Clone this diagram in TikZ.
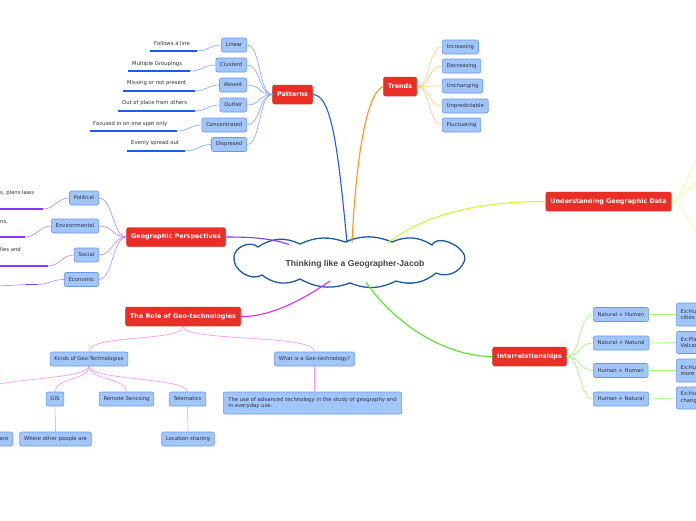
\documentclass[tikz,border=0pt]{standalone}
\usepackage{fontspec}
\setmainfont{DejaVu Sans}
\newfontfamily\cloudfont{Liberation Sans}
\usetikzlibrary{shadows}
\definecolor{myred}{RGB}{234,46,38}
\definecolor{myredd}{RGB}{215,40,32}
\definecolor{bfill}{RGB}{162,198,252}
\definecolor{bborder}{RGB}{105,152,235}
\definecolor{txt}{RGB}{45,45,55}
\definecolor{cloudc}{RGB}{26,90,168}
\definecolor{cblue}{RGB}{30,90,235}
\definecolor{lblue}{RGB}{130,165,255}
\definecolor{corange}{RGB}{255,150,25}
\definecolor{lorange}{RGB}{255,205,125}
\definecolor{cyell}{RGB}{210,250,50}
\definecolor{lyell}{RGB}{232,255,130}
\definecolor{cpurp}{RGB}{135,55,245}
\definecolor{lpurp}{RGB}{175,135,255}
\definecolor{cmag}{RGB}{235,40,235}
\definecolor{lmag}{RGB}{248,145,248}
\definecolor{cgreen}{RGB}{85,232,30}
\definecolor{lgreen}{RGB}{155,250,115}
\tikzset{
 redbox/.style={draw=myredd, fill=myred, text=white, font=\bfseries\fontsize{6.4}{7}\selectfont, rounded corners=2pt, inner xsep=4.5pt, inner ysep=0pt, minimum height=19pt, line width=0.4pt, drop shadow={shadow xshift=0.7pt, shadow yshift=-0.7pt, opacity=0.3}},
 bbox/.style={draw=bborder, fill=bfill, rounded corners=2pt, font=\fontsize{5.3}{6.8}\selectfont, text=txt, inner xsep=4.4pt, inner ysep=0pt, minimum height=14pt, line width=0.6pt},
 lbl/.style={font=\fontsize{5.3}{6.5}\selectfont, text=txt, inner sep=0pt},
 uline/.style={line width=1.5pt},
 conn/.style={line width=0.6pt},
 branch/.style={line width=1.1pt},
 cloudline/.style={draw=cloudc, line width=1.3pt, fill=white},
}
\begin{document}
\begin{tikzpicture}[x=1pt,y=-1pt]
\useasboundingbox (0,0) rectangle (696,520);
\fill[white] (0,0) rectangle (696,520);

% root cloud
\path[cloudline] (234,257) to[bend left=65] (258,247) to[bend left=30] (300,244)
  to[bend left=22] (345,242) to[bend left=22] (392,242) to[bend left=28] (432,245)
  to[bend left=90] (464,262) to[bend left=45] (436,273) to[bend left=28] (396,281)
  to[bend left=24] (350,283) to[bend left=24] (300,279) to[bend left=32] (262,275)
  to[bend left=65] (234,257) -- cycle;
\node[inner sep=0pt, font=\cloudfont\bfseries\fontsize{8.6}{10}\selectfont, text={rgb,255:red,68;green,68;blue,68}] (root) at (355,264) {Thinking like a Geographer-Jacob};
\coordinate (cpat) at (347,242.5);
\coordinate (ctre) at (352,242.5);
\coordinate (cund) at (388,242.5);
\coordinate (cgeo) at (289,244.5);
\coordinate (crol) at (330,281);
\coordinate (cint) at (366,282.5);

% main topics
\node[redbox] (patterns) at (292.5,94.5) {Patterns};
\node[redbox] (trends) at (400,86.5) {Trends};
\node[redbox] (geop) at (176,237) {Geographic Perspectives};
\node[redbox] (ugd) at (608.5,201.5) {Understanding Geographic Data};
\node[redbox] (inter) at (529.5,356.5) {Interrelationships};
\node[redbox] (role) at (183,316.5) {The Role of Geo-technologies};

% Patterns children
\node[bbox, anchor=east] (linear) at (247,45) {Linear};
\node[bbox, anchor=east] (clusterd) at (247,65) {Clusterd};
\node[bbox, anchor=east] (absent) at (247,85) {Absent};
\node[bbox, anchor=east] (outlier) at (247,105) {Outlier};
\node[bbox, anchor=east] (concentrated) at (247,125) {Concentrated};
\node[bbox, anchor=east] (dispresed) at (247,144.5) {Dispresed};

\node[lbl, anchor=west] (l1) at (154,44) {Follows a line};
\node[lbl, anchor=west] (l2) at (132,64) {Multiple Groupings};
\node[lbl, anchor=west] (l3) at (127,83.5) {Missing or not present};
\node[lbl, anchor=west] (l4) at (122,103.5) {Out of place from others};
\node[lbl, anchor=west] (l5) at (93,124) {Focused in on one spot only};
\node[lbl, anchor=west] (l6) at (131,143.5) {Evenly spread out};

\coordinate (u1a) at (150,51); \coordinate (u1b) at (197,51);
\coordinate (u2a) at (128,71); \coordinate (u2b) at (190,71);
\coordinate (u3a) at (123,91); \coordinate (u3b) at (195,91);
\coordinate (u4a) at (118,111); \coordinate (u4b) at (195,111);
\coordinate (u5a) at (90,131); \coordinate (u5b) at (177,131);
\coordinate (u6a) at (127,151); \coordinate (u6b) at (185,151);
\foreach \i/\n in {1/linear,2/clusterd,3/absent,4/outlier,5/concentrated,6/dispresed}{
  \draw[uline, cblue] (u\i a) -- (u\i b);
  \draw[conn, lblue] (u\i b) .. controls +(12,0) and +(-12,0) .. (\n.west);
  \draw[conn, lblue] (patterns.west) .. controls +(-14,0) and +(14,0) .. (\n.east);
}

% Trends children
\node[bbox, anchor=west] (inc) at (442,47) {Increasing};
\node[bbox, anchor=west] (dec) at (442,66) {Decreasing};
\node[bbox, anchor=west] (unch) at (442,86) {Unchanging};
\node[bbox, anchor=west] (unpr) at (442,106) {Unpredictable};
\node[bbox, anchor=west] (fluc) at (442,125) {Fluctuating};
\foreach \n in {inc,dec,unch,unpr,fluc}{
  \draw[conn, lorange] (trends.east) .. controls +(14,0) and +(-14,0) .. (\n.west);
}

% Geographic perspectives children
\node[bbox, anchor=east] (pol) at (99,198) {Political};
\node[bbox, anchor=east] (env) at (99,226) {Environmental};
\node[bbox, anchor=east] (soc) at (99,255) {Social};
\node[bbox, anchor=east] (eco) at (99,279.5) {Economic};
\node[lbl, anchor=west] (gl1) at (0,193) {s, plans laws};
\node[lbl, anchor=west] (gl2) at (0,222) {ns,};
\node[lbl, anchor=west] (gl3) at (0,250) {lies and};
\coordinate (g1a) at (-2,209); \coordinate (g1b) at (43,209);
\coordinate (g2a) at (-2,237); \coordinate (g2b) at (25,237);
\coordinate (g3a) at (-2,266); \coordinate (g3b) at (48,266);
\coordinate (g4a) at (26,284.5); \coordinate (g4b) at (37,284.5);
\coordinate (g4c) at (-2,286);
\draw[uline, cpurp] (g1a) -- (g1b);
\draw[uline, cpurp] (g2a) -- (g2b);
\draw[uline, cpurp] (g3a) -- (g3b);
\draw[uline, cpurp] (g4a) -- (g4b);
\draw[conn, lpurp] (g4c) -- (g4a);
\draw[conn, lpurp] (pol.west) .. controls +(-12,0) and +(12,0) .. (g1b);
\draw[conn, lpurp] (env.west) .. controls +(-12,0) and +(12,0) .. (g2b);
\draw[conn, lpurp] (soc.west) .. controls +(-12,0) and +(12,0) .. (g3b);
\draw[conn, lpurp] (eco.west) .. controls +(-12,0) and +(12,0) .. (g4b);
\foreach \n in {pol,env,soc,eco}{
  \draw[conn, lpurp] (geop.west) .. controls +(-14,0) and +(14,0) .. (\n.east);
}

% Understanding children (off page)
\coordinate (ud1) at (706,150);
\coordinate (ud2) at (706,178);
\coordinate (ud3) at (706,238);
\foreach \n in {ud1,ud2,ud3}{
  \draw[conn, lyell] (ugd.east) .. controls +(12,0) and +(-12,0) .. (\n);
}

% Interrelationships children
\node[bbox, anchor=west] (nh) at (593,314.5) {Natural + Human};
\node[bbox, anchor=west] (nn) at (593,343) {Natural + Natural};
\node[bbox, anchor=west] (hh) at (593,370.5) {Human + Human};
\node[bbox, anchor=west] (hn) at (593,399) {Human + Natural};
\node[bbox, anchor=west, align=left, text width=50pt, minimum height=23pt] (nh2) at (676,314.5) {Ex:Hu\\cities};
\node[bbox, anchor=west, align=left, text width=50pt, minimum height=22pt] (nn2) at (676,342.5) {Ex:Pla\\Valcan};
\node[bbox, anchor=west, align=left, text width=50pt, minimum height=23pt] (hh2) at (676,370.5) {Ex:Hu\\more};
\node[bbox, anchor=west, align=left, text width=50pt, minimum height=22pt] (hn2) at (676,398) {Ex:Hu\\chang};
\foreach \n in {nh,nn,hh,hn}{
  \draw[conn, lgreen] (inter.east) .. controls +(14,0) and +(-14,0) .. (\n.west);
  \draw[conn, lgreen] (\n.east) -- (\n2.west);
}

% Role children
\node[bbox] (kinds) at (89,359) {Kinds of Geo-Technologies};
\node[bbox] (whatis) at (314.5,359) {What is a Geo-technology?};
\node[bbox] (gis) at (55,399) {GIS};
\node[bbox] (rs) at (126.5,399) {Remote Sencsing};
\node[bbox] (tel) at (187.5,399) {Telematics};
\node[bbox] (wop) at (55.5,439) {Where other people are};
\node[bbox] (ls) at (188,439) {Location sharing};
\node[bbox, anchor=east, text width=30pt, align=right] (are) at (13,439) {are};
\node[bbox, anchor=west, align=left, minimum height=22pt, inner xsep=5pt] (use) at (223,403) {The use of advanced technology in the study of geography and\\in everyday use.};
\coordinate (kgps) at (-18,392);
\draw[conn, lmag] (role.south) .. controls +(0,16) and +(0,-18) .. (kinds.north);
\draw[conn, lmag] (role.south) .. controls +(0,16) and +(0,-18) .. (whatis.north);
\foreach \n in {gis,rs,tel}{
  \draw[conn, lmag] (kinds.south) .. controls +(0,14) and +(0,-14) .. (\n.north);
}
\draw[conn, lmag] (kinds.south) .. controls +(0,14) and +(0,-14) .. (kgps);
\draw[conn, lmag] (gis.south) -- (wop.north);
\draw[conn, lmag] (tel.south) -- (ls.north);
\draw[conn, lmag] (whatis.south) -- (use.north -| whatis.south);

% main branches
\draw[branch, cblue] (cpat) .. controls (338,150) and (332,94.5) .. (patterns.east);
\draw[branch, corange] (ctre) .. controls (356,160) and (366,93) .. (trends.west);
\draw[branch, cyell] (cund) .. controls (425,215) and (475,201.5) .. (ugd.west);
\draw[branch, cpurp] (geop.east) .. controls (250,237) and (270,238) .. (cgeo);
\draw[branch, cmag] (role.east) .. controls (272,317) and (305,298) .. (crol);
\draw[branch, cgreen] (cint) .. controls (400,330) and (450,356.5) .. (inter.west);
\end{tikzpicture}
\end{document}
